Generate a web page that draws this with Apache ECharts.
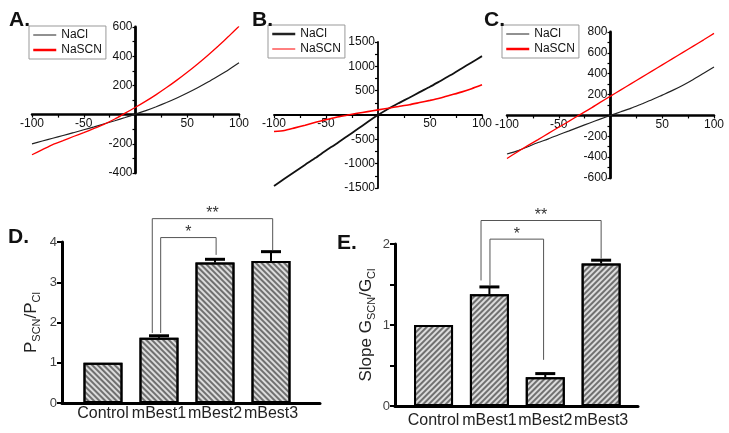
<!DOCTYPE html>
<html><head><meta charset="utf-8">
<script src="https://cdn.jsdelivr.net/npm/echarts@6/dist/echarts.min.js"></script>
<style>html,body{margin:0;padding:0;background:#fff}#c{width:729px;height:433px}</style>
</head><body><div id="c"></div>
<script>
const voltage = [-100,-90,-80,-70,-60,-50,-40,-30,-20,-10,0,10,20,30,40,50,60,70,80,90,100];
const aNaCl  = [-200,-181,-162,-143,-124,-104,-84,-63,-42,-20,3,27,54,83,114,148,184,223,265,308,355];
const aNaSCN = [-275,-240,-205,-178,-150,-123,-95,-65,-30,10,50,92,137,185,236,290,347,407,470,536,605];
const bNaCl  = [-1460,-1310,-1165,-1020,-880,-730,-590,-440,-295,-145,0,130,245,355,470,580,700,820,950,1080,1210];
const bNaSCN = [-340,-320,-265,-210,-150,-95,-45,-5,35,70,105,140,175,210,255,300,350,410,470,540,620];
const cNaCl  = [-370,-340,-300,-260,-225,-185,-148,-110,-72,-35,0,35,70,110,150,195,240,290,345,405,465];
const cNaSCN = [-413,-350,-290,-232,-172,-113,-55,5,63,125,185,245,305,365,425,485,545,605,665,725,787];
const groups = ['Control','mBest1','mBest2','mBest3'];
const dMean = [1.0,1.62,3.49,3.53];
const dErrTop = [1.0,1.67,3.57,3.76];
const eMean = [1.0,1.38,0.354,1.76];
const eErrTop = [1.0,1.47,0.40,1.80];
// [leftX, rightX, topY, leftBottomY, rightBottomY]
const dBrackets = [[1.03,2.02,4.11,1.74,3.68],[0.88,3.03,4.58,1.74,3.80]];
const eBrackets = [[1.01,1.97,2.06,1.48,0.57],[0.85,3.0,2.29,1.55,1.82]];
const bracketMarks = ['*','**'];

const FONT = '"Liberation Sans", Arial, sans-serif';
const chart = echarts.init(document.getElementById('c'), null, {renderer:'canvas'});

function ivX(gi, w){
  return {gridIndex:gi, type:'value', min:-100, max:100, interval:50, position:'bottom',
    axisLine:{onZero:false, lineStyle:{color:'#000', width:w}},
    axisTick:{show:true, length:3, lineStyle:{color:'#000', width:1.2}},
    minorTick:{show:true, splitNumber:2, length:3, lineStyle:{color:'#000', width:1.2}},
    splitLine:{show:false}, minorSplitLine:{show:false},
    axisLabel:{fontSize:12, color:'#111', margin:3, formatter:v=>v===0?'':String(v)}};
}
function ivY(gi,min,max,interval,w){
  return {gridIndex:gi, type:'value', min:min, max:max, interval:interval, position:'left',
    axisLine:{onZero:false, lineStyle:{color:'#000', width:w}},
    axisTick:{show:true, length:3, lineStyle:{color:'#000', width:1.2}},
    minorTick:{show:true, splitNumber:2, length:3, lineStyle:{color:'#000', width:1.2}},
    splitLine:{show:false}, minorSplitLine:{show:false},
    axisLabel:{fontSize:12, color:'#111', margin:3, formatter:v=>v===0?'':String(v)}};
}
function lineSeries(name, gi, vals, color, width){
  return {type:'line', name:name, xAxisIndex:gi, yAxisIndex:gi, symbol:'none', smooth:0.2,
    data: voltage.map((v,i)=>[v, vals[i]]),
    lineStyle:{color:color, width:width}, itemStyle:{color:color}};
}
function legendBox(left, top, wCl, wScn){
  return {left:left, top:top, orient:'vertical', itemGap:3, itemWidth:23, itemHeight:10,
    padding:[3,4,3,3], borderColor:'#999', borderWidth:1, backgroundColor:'#fff',
    textStyle:{fontSize:12, color:'#111', fontFamily:FONT}, selectedMode:false,
    data:[{name:'NaCl', lineStyle:{width:wCl, color:'#222'}, itemStyle:{opacity:0}},
          {name:'NaSCN', lineStyle:{width:wScn, color:'#f00'}, itemStyle:{opacity:0}}]};
}
const hatch = (rot)=>({symbol:'rect', symbolSize:1, color:'rgba(40,40,40,0.6)',
   dashArrayX:[1,0], dashArrayY:[1.3,1.9], rotation:rot});

function barX(gi,min,max,margin){
  return {gridIndex:gi, type:'value', min:min, max:max,
    axisLine:{onZero:false, lineStyle:{color:'#000', width:3}},
    axisTick:{show:false}, splitLine:{show:false},
    axisLabel:{customValues:[0,1,2,3], formatter:v=>groups[Math.round(v)], fontSize:16, color:'#222', margin:margin}};
}
function barY(gi,max,interval,name,gap){
  return {gridIndex:gi, type:'value', min:0, max:max, interval:interval,
    axisLine:{show:true, onZero:false, lineStyle:{color:'#000', width:3}},
    axisTick:{show:true, length:5, lineStyle:{color:'#000', width:2}},
    splitLine:{show:false},
    axisLabel:{fontSize:13, color:'#444', margin:5, formatter:v=>(v%1===0?String(v):'')},
    name:name, nameLocation:'middle', nameRotate:90, nameGap:gap,
    nameTextStyle:{color:'#222', rich:{a:{fontSize:17, lineHeight:22, color:'#222', fontFamily:FONT},
                                       s:{fontSize:11, lineHeight:11, verticalAlign:'bottom', color:'#222', fontFamily:FONT}}}};
}
function barSeries(gi, means, rot){
  return {type:'bar', xAxisIndex:gi, yAxisIndex:gi, barWidth:39,
    data: means.map((m,i)=>[i,m]),
    itemStyle:{color:'#dcdcdc', borderColor:'#000', borderWidth:2, decal:hatch(rot)}};
}
function errSeries(gi, means, tops){
  return {type:'custom', xAxisIndex:gi, yAxisIndex:gi, z:5,
    data: means.map((m,i)=>[i,m,tops[i]]),
    encode:{x:0, y:[1,2]},
    renderItem:(params, api)=>{
      const b = api.coord([api.value(0), api.value(1)]);
      const t = api.coord([api.value(0), api.value(2)]);
      if (api.value(2) <= api.value(1)) return {type:'group', children:[]};
      return {type:'group', children:[
        {type:'line', shape:{x1:b[0], y1:b[1], x2:t[0], y2:t[1]}, style:{stroke:'#000', lineWidth:2}},
        {type:'line', shape:{x1:t[0]-10, y1:t[1], x2:t[0]+10, y2:t[1]}, style:{stroke:'#000', lineWidth:3}}
      ]};
    }};
}
function bracketSeries(gi, brackets){
  return {type:'custom', xAxisIndex:gi, yAxisIndex:gi, z:6, clip:false,
    data: brackets, encode:{x:[0,1], y:[2,3,4]},
    renderItem:(params, api)=>{
      const p1 = api.coord([api.value(0), api.value(3)]);
      const p1t = api.coord([api.value(0), api.value(2)]);
      const p2t = api.coord([api.value(1), api.value(2)]);
      const p2 = api.coord([api.value(1), api.value(4)]);
      return {type:'group', children:[
        {type:'polyline', shape:{points:[p1,p1t,p2t,p2]}, style:{stroke:'#555', lineWidth:1, fill:null}},
        {type:'text', x:(p1t[0]+p2t[0])/2, y:p1t[1]-5,
          style:{text:bracketMarks[params.dataIndex], fontSize:16, fill:'#333', align:'center', verticalAlign:'middle', fontFamily:FONT}}
      ]};
    }};
}

const letter = (t,l,tp)=>({text:t, left:l, top:tp, textStyle:{fontSize:21, fontWeight:'bold', color:'#111', fontFamily:FONT}});
const option = {
  animation:false,
  textStyle:{fontFamily:FONT},
  title:[letter('A.',4,5), letter('B.',247,5), letter('C.',479,5), letter('D.',3,222), letter('E.',332,228)],
  legend:[legendBox(29,26,1,2.5), legendBox(268,25,2.5,1), legendBox(502,25,1,2.5)],
  grid:[
    {left:32, top:27, width:207, height:146},
    {left:274, top:42, width:208, height:146},
    {left:507, top:32, width:207, height:146},
    {left:62, top:242, width:258, height:161},
    {left:395, top:244, width:243, height:162}
  ],
  xAxis:[ivX(0,2.5), ivX(1,1.8), ivX(2,2.5),
    barX(3,-0.732,3.875,3), barX(4,-0.69,3.66,7)],
  yAxis:[ivY(0,-400,600,200,2.8), ivY(1,-1500,1500,500,1.8), ivY(2,-600,800,200,2.8),
    barY(3,4,1,'{a|P}{s|SCN}{a|/P}{s|Cl}',20), barY(4,2,0.5,'{a|Slope G}{s|SCN}{a|/G}{s|Cl}',18)],
  series:[
    lineSeries('NaCl',0,aNaCl,'#222',1.2), lineSeries('NaSCN',0,aNaSCN,'#f00',1.3),
    lineSeries('NaCl',1,bNaCl,'#111',1.8), lineSeries('NaSCN',1,bNaSCN,'#f00',1.6),
    lineSeries('NaCl',2,cNaCl,'#222',1.2), lineSeries('NaSCN',2,cNaSCN,'#f00',1.3),
    barSeries(3,dMean,Math.PI/4), errSeries(3,dMean,dErrTop), bracketSeries(3,dBrackets),
    barSeries(4,eMean,-Math.PI/4), errSeries(4,eMean,eErrTop), bracketSeries(4,eBrackets)
  ]
};
chart.setOption(option);

// Move the I-V axes so that they cross at the origin (0,0) using the library's own scales
const xOff = [], yOff = [];
for (let g = 0; g < 3; g++) {
  const origin = chart.convertToPixel({gridIndex:g}, [0, 0]);
  const corner = chart.convertToPixel({gridIndex:g}, [option.xAxis[g].min, option.yAxis[g].min]);
  xOff.push({offset: origin[1] - corner[1]});
  yOff.push({offset: corner[0] - origin[0]});
}
chart.setOption({xAxis: xOff, yAxis: yOff});
</script></body></html>
